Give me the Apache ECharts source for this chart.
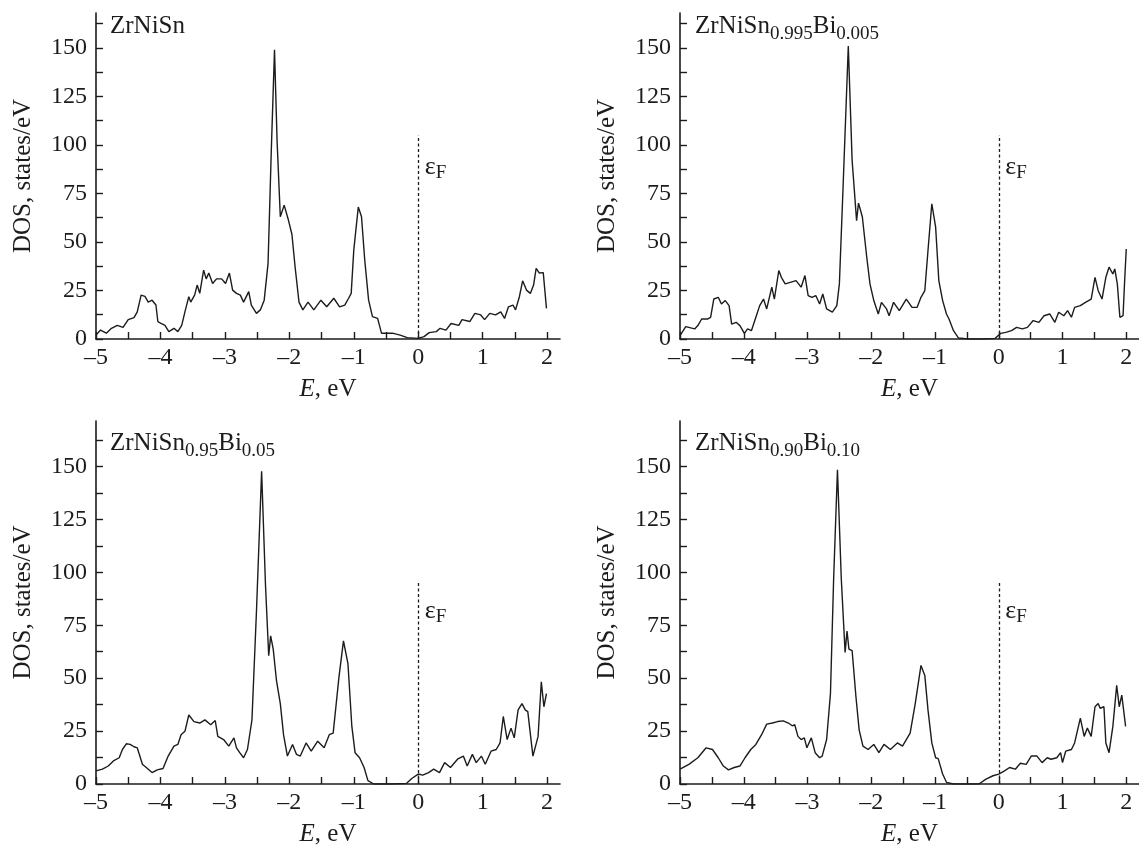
<!DOCTYPE html>
<html><head><meta charset="utf-8">
<script src="https://cdn.jsdelivr.net/npm/echarts@6/dist/echarts.min.js"></script>
<style>html,body{margin:0;padding:0;background:#fff}#c{width:1139px;height:849px}</style>
</head><body><div id="c"></div>
<script>
// ---- data: energy (eV) and DOS (states/eV) for each composition ----
const e1=[-5.00,-4.93,-4.84,-4.76,-4.67,-4.58,-4.50,-4.41,-4.36,-4.30,-4.24,-4.19,-4.13,-4.07,-4.04,-3.99,-3.93,-3.87,-3.79,-3.73,-3.67,-3.62,-3.56,-3.53,-3.47,-3.43,-3.39,-3.33,-3.29,-3.25,-3.19,-3.13,-3.05,-2.99,-2.93,-2.88,-2.82,-2.76,-2.71,-2.63,-2.59,-2.51,-2.45,-2.39,-2.33,-2.28,-2.23,-2.19,-2.14,-2.08,-2.02,-1.96,-1.91,-1.85,-1.79,-1.71,-1.62,-1.51,-1.42,-1.31,-1.22,-1.14,-1.08,-1.04,-1.00,-0.93,-0.88,-0.83,-0.77,-0.71,-0.63,-0.57,-0.51,-0.40,-0.28,-0.17,0.00,0.09,0.17,0.28,0.34,0.43,0.51,0.63,0.68,0.80,0.88,0.97,1.03,1.11,1.20,1.28,1.34,1.40,1.47,1.51,1.57,1.62,1.68,1.74,1.79,1.83,1.88,1.94,1.99];
const d1=[2,4.6,3,5.5,7,6,10,11,14,22.6,22,19,20,17.5,9,8,7,3.8,5.5,3.8,7,14,21.8,19,22.6,27.8,23.5,35.5,31,34,28.6,31,31,28.6,34,25.2,23.5,22.6,19,24.4,17.5,13.2,15,20,39,97,149,102,63,69,62,54,37,19,15,19,15,20,16.6,21,16.6,17.5,21,23.5,45.8,68,63,40.7,20,11.5,10.6,3,3,3,2,0.7,0.3,1.2,3.3,3.8,5.5,4.6,8,7,10,9,13.2,12.4,10,13.2,12.4,14,10.6,16.6,17.5,15,21.8,30,25.2,23.5,27.8,36.4,34,34.2,15.8];

const e2=[-5.00,-4.91,-4.83,-4.77,-4.72,-4.66,-4.57,-4.52,-4.47,-4.40,-4.35,-4.29,-4.23,-4.19,-4.12,-4.06,-3.99,-3.94,-3.88,-3.81,-3.75,-3.69,-3.64,-3.56,-3.52,-3.45,-3.41,-3.35,-3.27,-3.18,-3.10,-3.04,-2.99,-2.93,-2.87,-2.81,-2.76,-2.70,-2.61,-2.54,-2.50,-2.44,-2.36,-2.30,-2.23,-2.20,-2.14,-2.07,-2.02,-1.96,-1.89,-1.84,-1.76,-1.72,-1.65,-1.56,-1.45,-1.36,-1.28,-1.22,-1.16,-1.11,-1.05,-0.99,-0.94,-0.88,-0.82,-0.78,-0.71,-0.63,-0.48,-0.26,-0.06,0.03,0.11,0.20,0.28,0.37,0.45,0.54,0.63,0.71,0.80,0.88,0.94,1.02,1.08,1.14,1.19,1.28,1.36,1.45,1.51,1.56,1.62,1.68,1.73,1.79,1.82,1.86,1.90,1.95,1.97,2.00];
const d2=[1.7,6.4,5.7,5.2,6.9,10.3,10.3,11.2,20.6,21.5,18,19.8,17.2,7.7,8.6,6.9,2.9,5.2,4.3,11.2,17.2,20.6,15.5,26.7,20.6,35.3,31.8,28.4,29.2,30.1,26.7,32.7,22.4,21.5,22.4,18,23.2,15.5,13.8,17.2,28.4,80,151,92,61,70,63,42,28.4,19.8,12.9,18.9,15.5,12,18.9,14.6,20.6,16.3,16.3,21.5,24.9,45.6,69.7,57.6,30.1,19.8,12.9,10.3,4.3,0.5,0,0,0.3,2.9,3.4,4.3,6,5.2,6,9.5,8.6,12,12.9,8.6,13.8,12,14.6,11.2,16.3,17.2,18.9,20.6,31.8,24.9,20.6,31.8,37,33.5,36.1,28.4,11.2,12,26.7,46.4];

const e3=[-5.00,-4.90,-4.81,-4.73,-4.64,-4.59,-4.53,-4.47,-4.41,-4.36,-4.32,-4.28,-4.22,-4.13,-4.05,-3.96,-3.88,-3.79,-3.73,-3.68,-3.62,-3.56,-3.48,-3.39,-3.31,-3.22,-3.15,-3.11,-3.02,-2.94,-2.86,-2.82,-2.77,-2.71,-2.65,-2.58,-2.51,-2.43,-2.37,-2.32,-2.29,-2.25,-2.20,-2.14,-2.09,-2.03,-1.95,-1.89,-1.83,-1.74,-1.66,-1.56,-1.46,-1.38,-1.32,-1.23,-1.16,-1.09,-1.03,-0.98,-0.91,-0.84,-0.78,-0.69,-0.41,-0.18,-0.10,0.00,0.07,0.16,0.24,0.33,0.41,0.50,0.61,0.70,0.76,0.84,0.90,0.98,1.04,1.13,1.21,1.27,1.32,1.38,1.44,1.49,1.55,1.61,1.66,1.70,1.78,1.81,1.86,1.91,1.95,1.99];
const d3=[6.2,7,8.5,10.9,12.4,16.3,19,18.7,17.6,17.1,13.2,9.3,7.8,5.4,6.7,7.3,13.2,17.9,18.7,23.3,24.9,32.6,29.5,28.8,30.3,28,30,22.5,21,17.9,21.8,17.1,14.8,12.4,16.3,30.3,81.6,147.7,94,60.6,70,63.7,49,38,23.3,13.2,18.7,14,13.2,19.4,15.5,20.2,17.1,23.3,24,50.5,67.6,56.7,27.2,14.8,12.4,7.8,1.6,0,0,0.3,2.6,4.7,4.2,5.4,7,5.4,10.1,7.8,11.7,13.2,8.5,14,10.1,13.2,9.3,15.5,16.3,19.4,31.9,21,26.4,21.8,35,38,35,34.2,13.2,12.4,22.5,48.3,36.5,42.7];

const e4=[-5.00,-4.86,-4.72,-4.59,-4.49,-4.40,-4.32,-4.24,-4.15,-4.06,-3.98,-3.89,-3.81,-3.72,-3.64,-3.55,-3.47,-3.38,-3.30,-3.24,-3.20,-3.15,-3.10,-3.05,-3.01,-2.94,-2.88,-2.81,-2.77,-2.70,-2.64,-2.59,-2.53,-2.47,-2.41,-2.38,-2.35,-2.30,-2.24,-2.19,-2.13,-2.05,-1.96,-1.88,-1.80,-1.70,-1.59,-1.51,-1.39,-1.31,-1.22,-1.16,-1.11,-1.05,-0.99,-0.95,-0.88,-0.82,-0.71,-0.31,-0.20,-0.09,0.00,0.09,0.17,0.26,0.34,0.43,0.51,0.60,0.68,0.76,0.82,0.91,0.97,1.00,1.05,1.14,1.19,1.28,1.34,1.39,1.45,1.51,1.56,1.59,1.65,1.68,1.73,1.79,1.85,1.89,1.93,1.99];
const d4=[7,9.3,12.4,17.1,16.3,12.4,8.5,6.7,7.8,8.5,12.4,16.3,18.7,23.3,28.3,28.8,29.5,29.8,28.8,27.5,28,22.5,21,21.8,17.1,21.8,14.8,12.4,13.2,21,42.7,97,148.5,97,62.2,72.3,63.7,63,41.2,25.6,17.9,16.3,18.7,14.8,18.7,16.3,19.4,17.9,24,38,56,51.3,35,19.4,12.4,12,4.7,0.8,0,0,2.3,3.9,4.7,6.2,7.8,7,9.8,9.3,13.2,13.2,10.1,12.4,11.7,12.4,14.8,10.1,15.5,16.3,19.4,31.1,22.5,26.4,22.5,36.5,38,35.8,36.5,19.4,14.8,27.2,46.6,36.5,42,27.2];

// compositions: [base, Sn index, Bi index]
const titles=[['ZrNiSn','',''],['ZrNiSn','0.995','0.005'],['ZrNiSn','0.95','0.05'],['ZrNiSn','0.90','0.10']];
const xTicks=[-5,-4.5,-4,-3.5,-3,-2.5,-2,-1.5,-1,-0.5,0,0.5,1,1.5,2];
const xLabels=[-5,-4,-3,-2,-1,0,1,2];
const yTicks=[0,12.5,25,37.5,50,62.5,75,87.5,100,112.5,125,137.5,150,162.5];
const yLabels=[0,25,50,75,100,125,150];
const fermiTop=[105,105,96,96];
const fermiLabelY=[88,88,81,81];
const yMax=[168,168,171.5,171.5];

const energies=[e1,e2,e3,e4];
const dos=[d1,d2,d3,d4];

// ---- layout / style ----
const FONT='Liberation Serif';
const INK='#1c1c1c';
const grids=[
  {left:96,top:13,width:464,height:326},
  {left:680,top:13,width:461,height:326},
  {left:96,top:421,width:464,height:363},
  {left:680,top:421,width:461,height:363}
];
const titlePos=[[110,14],[695,14],[110,431],[695,431]];
const minus=v=>v<0?'\u2013'+Math.abs(v):String(v);

const chart=echarts.init(document.getElementById('c'),null,{renderer:'canvas'});
const xAxes=[],yAxes=[],series=[],graphics=[];
for(let i=0;i<4;i++){
  xAxes.push({type:'value',gridIndex:i,min:-5,max:2.2,
    axisLine:{show:true,onZero:false,lineStyle:{color:INK,width:1.6}},
    axisTick:{show:true,inside:true,length:7,customValues:xTicks,lineStyle:{color:INK,width:1.4}},
    axisLabel:{customValues:xLabels,formatter:minus,margin:7,color:INK,fontFamily:FONT,fontSize:24},
    splitLine:{show:false},
    name:'{i|E}, eV',nameLocation:'middle',nameGap:38,
    nameTextStyle:{color:INK,fontFamily:FONT,fontSize:25,rich:{i:{fontStyle:'italic',fontFamily:FONT,fontSize:25,color:INK}}}
  });
  yAxes.push({type:'value',gridIndex:i,min:0,max:yMax[i],
    axisLine:{show:true,onZero:false,lineStyle:{color:INK,width:1.6}},
    axisTick:{show:true,inside:true,length:7,customValues:yTicks,lineStyle:{color:INK,width:1.4}},
    axisLabel:{customValues:yLabels,margin:9,color:INK,fontFamily:FONT,fontSize:24},
    splitLine:{show:false},
    name:'DOS, states/eV',nameLocation:'middle',nameGap:60,nameRotate:90,
    nameTextStyle:{color:INK,fontFamily:FONT,fontSize:25}
  });
  const pts=energies[i].map((x,k)=>[x,dos[i][k]]);
  series.push({type:'line',xAxisIndex:i,yAxisIndex:i,data:pts,showSymbol:false,symbol:'none',
    lineStyle:{color:INK,width:1.4},silent:true,
    markLine:{silent:true,symbol:['none','none'],label:{show:false},
      lineStyle:{color:INK,width:1.3,type:[3,2.5]},
      data:[[{coord:[0,0]},{coord:[0,fermiTop[i]]}]]},
    markPoint:{silent:true,symbol:'circle',symbolSize:1,itemStyle:{color:'rgba(0,0,0,0)'},
      data:[{coord:[0,fermiLabelY[i]]}],
      label:{show:true,position:'right',distance:6,formatter:'{e|\u03b5}{f|F}',
        rich:{e:{fontSize:26,fontFamily:FONT,color:INK,verticalAlign:'top',lineHeight:28},
              f:{fontSize:19,fontFamily:FONT,color:INK,verticalAlign:'bottom',lineHeight:18}}}}
  });
  const t=titles[i];
  const txt=t[1]?'{m|'+t[0]+'}{s|'+t[1]+'}{m|Bi}{s|'+t[2]+'}':'{m|'+t[0]+'}';
  graphics.push({type:'text',left:titlePos[i][0],top:titlePos[i][1],
    style:{text:txt,rich:{
      m:{fontSize:25,fontFamily:FONT,fill:INK,color:INK,verticalAlign:'top',lineHeight:30},
      s:{fontSize:19,fontFamily:FONT,fill:INK,color:INK,verticalAlign:'bottom',lineHeight:18}}}});
}
chart.setOption({animation:false,backgroundColor:'#fff',grid:grids,xAxis:xAxes,yAxis:yAxes,series:series,graphic:graphics});
</script></body></html>
